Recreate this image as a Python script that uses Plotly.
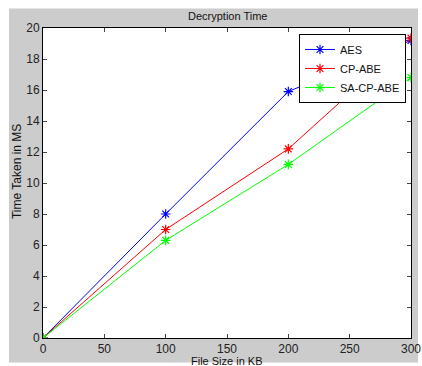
import plotly.graph_objects as go

file_size = [0, 100, 200, 300]
aes = [0, 8.0, 15.9, 19.2]
cp_abe = [0, 7.0, 12.2, 19.35]
sa_cp_abe = [0, 6.3, 11.2, 16.8]
x_ticks = [0, 50, 100, 150, 200, 250, 300]
y_ticks = [0, 2, 4, 6, 8, 10, 12, 14, 16, 18, 20]

W, H = 422, 366
L, R, T, B = 43, 411, 27.5, 338.5
pw, ph = R - L, B - T

def px(x):
    return (x - L) / pw

def py(y):
    return (B - y) / ph

font = "Liberation Sans, Arial, sans-serif"

fig = go.Figure()
series = [("AES", aes, "#0000ff"), ("CP-ABE", cp_abe, "#ff0000"), ("SA-CP-ABE", sa_cp_abe, "#00ff00")]
for name, ys, col in series:
    fig.add_trace(go.Scatter(
        x=file_size, y=ys, name=name, mode="lines+markers",
        line=dict(color=col, width=1),
        marker=dict(symbol="asterisk-open", size=8, line=dict(color=col, width=1.2), color=col),
    ))

fig.update_layout(
    width=W, height=H,
    margin=dict(l=L, r=W - R, t=T, b=H - B, pad=0, autoexpand=False),
    paper_bgcolor="white", plot_bgcolor="white",
    font=dict(family=font, size=12, color="#222"),
    showlegend=True,
    legend=dict(x=px(406), y=py(33.5), xanchor="right", yanchor="top",
                bgcolor="white", bordercolor="black", borderwidth=1,
                font=dict(size=11, color="#111"), tracegroupgap=0,
                itemwidth=30),
    shapes=[
        dict(type="rect", xref="paper", yref="paper", layer="below",
             x0=px(9), x1=px(418), y0=py(363), y1=py(8),
             fillcolor="#cccccc", line=dict(width=0)),
        dict(type="rect", xref="paper", yref="paper", layer="below",
             x0=0, x1=1, y0=0, y1=1, fillcolor="white", line=dict(width=0)),
    ],
    annotations=[
        dict(text="Decryption Time", xref="paper", yref="paper", x=px(227), y=py(15),
             xanchor="center", yanchor="middle", showarrow=False, font=dict(size=11, color="#111")),
        dict(text="File Size in KB", xref="paper", yref="paper", x=px(227), y=py(354),
             xanchor="center", yanchor="top", showarrow=False, font=dict(size=11, color="#111")),
        dict(text="Time Taken in MS", xref="paper", yref="paper", x=px(17), y=py(172),
             xanchor="center", yanchor="middle", showarrow=False, textangle=-90,
             font=dict(size=12, color="#111")),
    ],
)
fig.update_xaxes(range=[0, 300], tickvals=x_ticks, ticks="inside", ticklen=4,
                 showline=True, linecolor="black", linewidth=1, mirror="ticks",
                 showgrid=False, zeroline=False, tickfont=dict(size=12, color="#222"))
fig.update_yaxes(range=[0, 20], tickvals=y_ticks, ticks="inside", ticklen=4,
                 showline=True, linecolor="black", linewidth=1, mirror="ticks",
                 showgrid=False, zeroline=False, tickfont=dict(size=12, color="#222"))

fig.write_html("out.html")
